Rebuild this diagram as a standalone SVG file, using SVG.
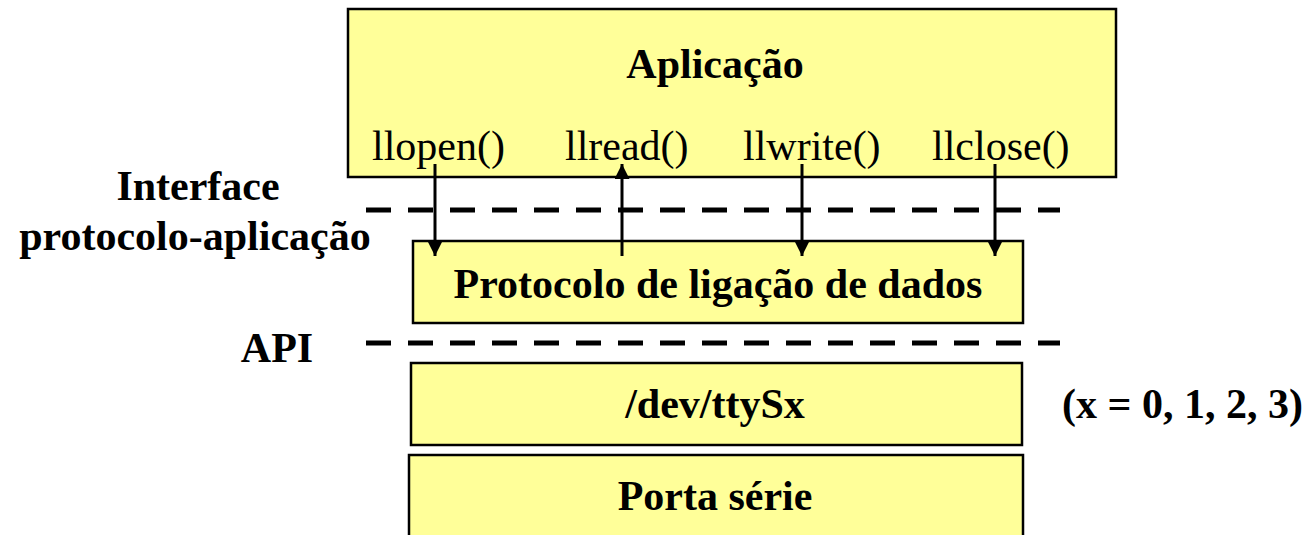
<svg xmlns="http://www.w3.org/2000/svg" width="1311" height="535" viewBox="0 0 1311 535" font-family="Liberation Serif">
<style>
.box{fill:#FFFF99;stroke:#000;stroke-width:2.5}
.b{font-weight:bold;font-size:42px;fill:#000}
.r{font-size:42px;fill:#000}
.dash{stroke:#000;stroke-width:5;stroke-dasharray:25 17;fill:none}
.arr{stroke:#000;stroke-width:3;fill:none}
</style>
<defs>
<marker id="ah" viewBox="0 0 10 10" refX="10" refY="5" markerWidth="5" markerHeight="5" orient="auto" markerUnits="strokeWidth">
<path d="M0,0 L10,5 L0,10 z" fill="#000"/>
</marker>
</defs>
<rect width="1311" height="535" fill="#fff"/>
<g id="aplicacao">
<rect class="box" x="348" y="9" width="768" height="168"/>
<text class="b" x="715" y="78" text-anchor="middle" font-family="Liberation Serif">Aplicação</text>
<text class="r" x="372" y="160" font-family="Liberation Serif">llopen()</text>
<text class="r" x="565" y="160" font-family="Liberation Serif">llread()</text>
<text class="r" x="743" y="160" font-family="Liberation Serif">llwrite()</text>
<text class="r" x="932" y="160" font-family="Liberation Serif">llclose()</text>
</g>
<g id="protocolo">
<rect class="box" x="413" y="241" width="610" height="82"/>
<text class="b" x="718" y="298" text-anchor="middle" font-family="Liberation Serif">Protocolo de ligação de dados</text>
</g>
<g id="ttySx">
<rect class="box" x="411" y="363" width="611" height="82"/>
<text class="b" x="715" y="418" text-anchor="middle" font-family="Liberation Serif">/dev/ttySx</text>
</g>
<g id="porta">
<rect class="box" x="409" y="455" width="614" height="100"/>
<text class="b" x="715" y="510" text-anchor="middle" font-family="Liberation Serif">Porta série</text>
</g>
<g id="labels">
<text class="b" x="198" y="200" text-anchor="middle" font-family="Liberation Serif">Interface</text>
<text class="b" x="195" y="250" text-anchor="middle" font-family="Liberation Serif">protocolo-aplicação</text>
<text class="b" x="277" y="362" text-anchor="middle" font-family="Liberation Serif">API</text>
<text class="b" x="1062" y="418" font-family="Liberation Serif">(x = 0, 1, 2, 3)</text>
</g>
<g id="connectors">
<line class="dash" x1="366" y1="210" x2="1060" y2="210"/>
<line class="dash" x1="366" y1="343" x2="1060" y2="343"/>
<line class="arr" x1="435" y1="164" x2="435" y2="256" marker-end="url(#ah)"/>
<line class="arr" x1="622" y1="256" x2="622" y2="164" marker-end="url(#ah)"/>
<line class="arr" x1="802" y1="164" x2="802" y2="256" marker-end="url(#ah)"/>
<line class="arr" x1="995" y1="164" x2="995" y2="256" marker-end="url(#ah)"/>
</g>
</svg>
